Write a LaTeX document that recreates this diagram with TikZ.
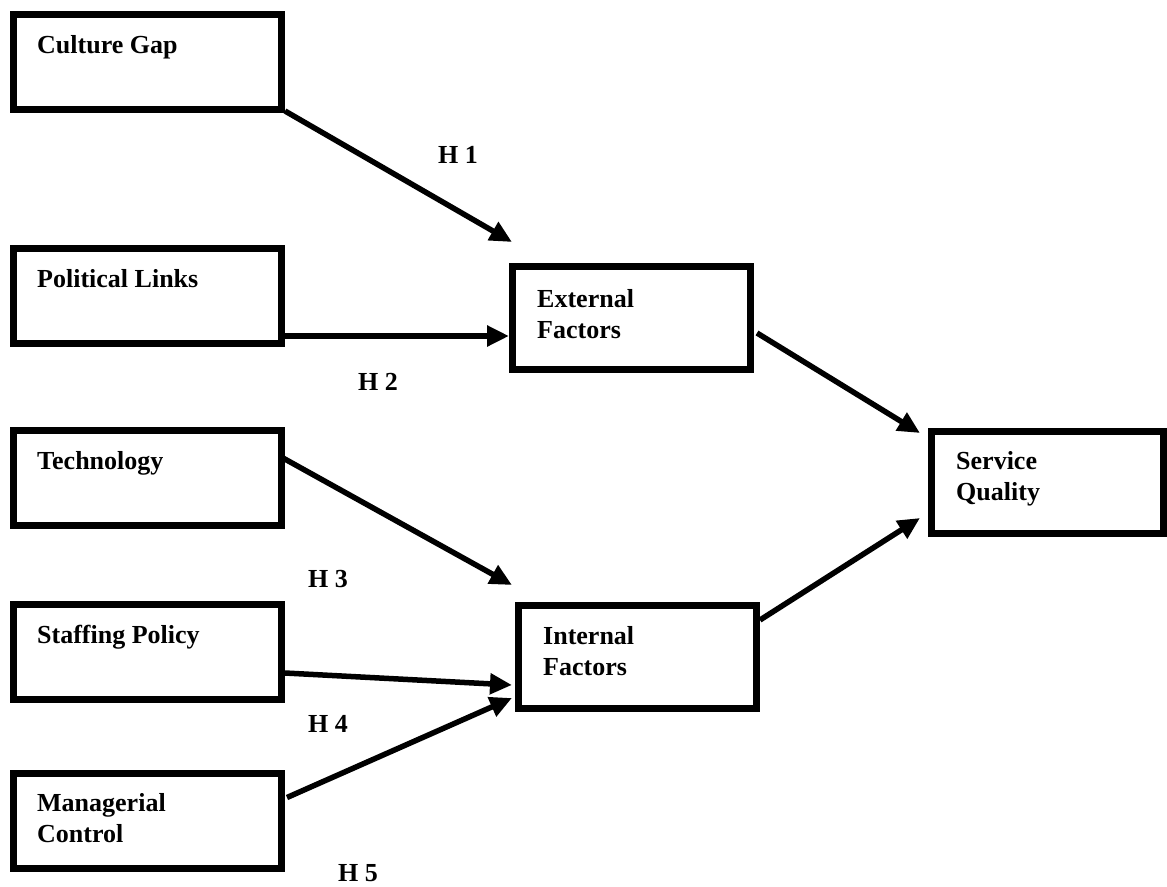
\documentclass[tikz,border=0pt]{standalone}
\usepackage{fontspec}
\setmainfont{Liberation Serif}
\usetikzlibrary{arrows.meta,calc}
\begin{document}
\begin{tikzpicture}[x=1pt,y=-1pt,
  box/.style={draw, line width=7pt, minimum width=268pt, minimum height=95pt, inner sep=0pt},
  bigbox/.style={box, minimum width=238pt, minimum height=103pt},
  lbl/.style={font=\fontsize{26}{31}\selectfont\bfseries, anchor=base west, inner sep=0pt, align=left},
  conn/.style={line width=5.5pt, -{Triangle[length=22pt,width=20pt]}}]
\useasboundingbox (0,0) rectangle (1167,886);
% left boxes
\node[box] (cg) at (147.5,62) {};
\node[box] (pl) at (147.5,296) {};
\node[box] (te) at (147.5,478) {};
\node[box] (sp) at (147.5,652) {};
\node[box] (mc) at (147.5,820.5) {};
% middle and right boxes
\node[bigbox] (ext) at (631.5,318) {};
\node[bigbox] (int) at (637.5,657) {};
\node[bigbox, minimum width=232pt, minimum height=102pt] (sq) at (1047.5,482.5) {};
% texts (base anchor of two-line texts is on the last line)
\node[lbl] (tcg) at ($(cg.north west)+(27,42)$) {Culture Gap};
\node[lbl] (tpl) at ($(pl.north west)+(27,42)$) {Political Links};
\node[lbl] (tte) at ($(te.north west)+(27,42)$) {Technology};
\node[lbl] (tsp) at ($(sp.north west)+(27,42)$) {Staffing Policy};
\node[lbl] (tmc) at ($(mc.north west)+(27,73)$) {Managerial\\Control};
\node[lbl] (text) at ($(ext.north west)+(28,75)$) {External\\Factors};
\node[lbl] (tint) at ($(int.north west)+(28,73)$) {Internal\\Factors};
\node[lbl] (tsq) at ($(sq.north west)+(28,72)$) {Service\\Quality};
% hypothesis labels
\node[lbl] (h1) at (438,163) {H 1};
\node[lbl] (h2) at (358,390) {H 2};
\node[lbl] (h3) at (308,587) {H 3};
\node[lbl] (h4) at (308,732) {H 4};
\node[lbl] (h5) at (338,881) {H 5};
% connectors
\draw[conn] ($(cg.south east)+(0,-2)$) -- ($(ext.north west)+(3,-21)$);
\draw[conn] ($(pl.south east)+(0,-11)$) -- ($(ext.south west)+(0,-37)$);
\draw[conn] ($(te.north east)+(-2,31)$) -- ($(int.north west)+(-3,-17)$);
\draw[conn] ($(sp.south east)+(0,-30)$) -- ($(int.south west)+(-3,-27)$);
\draw[conn] ($(mc.north east)+(2,28)$) -- ($(int.south west)+(-3,-14)$);
\draw[conn] ($(ext.north east)+(3,70)$) -- ($(sq.north west)+(-8,5)$);
\draw[conn] ($(int.north east)+(0,18)$) -- ($(sq.south west)+(-8,-19)$);
\end{tikzpicture}
\end{document}
